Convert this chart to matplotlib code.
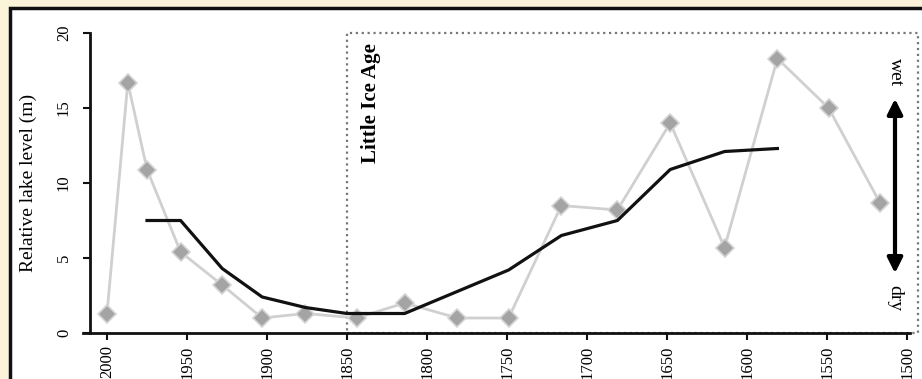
import matplotlib.pyplot as plt
from matplotlib.patches import Rectangle

# lake level record (years AD, relative level in m)
years = [2000, 1987, 1975, 1954, 1928, 1903, 1876, 1844, 1814, 1781,
         1749, 1716, 1681, 1648, 1614, 1581, 1549, 1517]
levels = [1.3, 16.7, 10.9, 5.4, 3.2, 1.0, 1.3, 1.0, 2.0, 1.0,
          1.0, 8.5, 8.2, 14.0, 5.7, 18.3, 15.0, 8.7]

# smoothed curve
trend_years = [1975, 1954, 1928, 1903, 1876, 1850, 1814,
               1749, 1716, 1681, 1648, 1614, 1581]
trend_levels = [7.5, 7.5, 4.3, 2.4, 1.7, 1.3, 1.3,
                4.2, 6.5, 7.5, 10.9, 12.1, 12.3]

x_ticks = [2000, 1950, 1900, 1850, 1800, 1750, 1700, 1650, 1600, 1550, 1500]
y_ticks = [0, 5, 10, 15, 20]
lia_start = 1850

plt.rcParams['font.family'] = ['Liberation Serif', 'DejaVu Serif']

W, H = 922, 379
fig = plt.figure(figsize=[W/100, H/100], dpi=100)
fig.patch.set_facecolor('#fbf4d8')

# white panel with black frame
fig.patches.append(Rectangle((10/W, -0.1), 1.1, 1 - 8/H + 0.1,
                             transform=fig.transFigure, facecolor='white',
                             edgecolor='#111111', linewidth=2.5, zorder=-5))

ax = fig.add_axes([90/W, (H-333)/H, (918-90)/W, 300/H])
ax.set_zorder(2)
ax.set_facecolor('none')
ax.set_xlim(2010.625, 1493.125)
ax.set_ylim(0, 20)

# Little Ice Age box
ax.add_patch(Rectangle((lia_start, 0), 1493.125 - lia_start, 20, fill=False,
                       edgecolor='#777777', linestyle=':', linewidth=1.6,
                       clip_on=False, zorder=1))
ax.text(1835, 19.35, 'Little Ice Age', rotation=90, ha='center', va='top',
        fontsize=15, fontweight='bold')

ax.plot(years, levels, color='#d0d0d0', linewidth=2, marker='D',
        markersize=9, markerfacecolor='#a4a4a4', markeredgecolor='#d4d4d4',
        markeredgewidth=1.2, clip_on=False, zorder=3)
ax.plot(trend_years, trend_levels, color='#111111', linewidth=2.3, zorder=4)

# wet / dry arrow
ax.annotate('', xy=(1507.5, 15.8), xytext=(1507.5, 3.8),
            arrowprops=dict(arrowstyle='<|-|>,head_length=0.9,head_width=0.45',
                            color='black', linewidth=3))
ax.text(1507.5, 17.4, 'wet', rotation=270, ha='center', va='center', fontsize=14)
ax.text(1507.5, 2.3, 'dry', rotation=270, ha='center', va='center', fontsize=14)

for s in ['top', 'right']:
    ax.spines[s].set_visible(False)
for s in ['left', 'bottom']:
    ax.spines[s].set_linewidth(2)
    ax.spines[s].set_color('#111111')
ax.spines['left'].set_bounds(0, 20)
ax.spines['bottom'].set_bounds(2015, 1498)

ax.set_xticks(x_ticks)
ax.set_xticklabels([str(t) for t in x_ticks], rotation=90, va='top')
ax.set_yticks(y_ticks)
ax.set_yticklabels([str(t) for t in y_ticks], rotation=90, va='center')
ax.tick_params(axis='both', length=5, width=1.5, labelsize=12, color='#111111')
ax.tick_params(axis='y', pad=8)
ax.tick_params(axis='x', pad=4)
ax.set_ylabel('Relative lake level (m)', fontsize=14, labelpad=14)

fig.savefig('out.png', dpi=100, facecolor=fig.get_facecolor())
